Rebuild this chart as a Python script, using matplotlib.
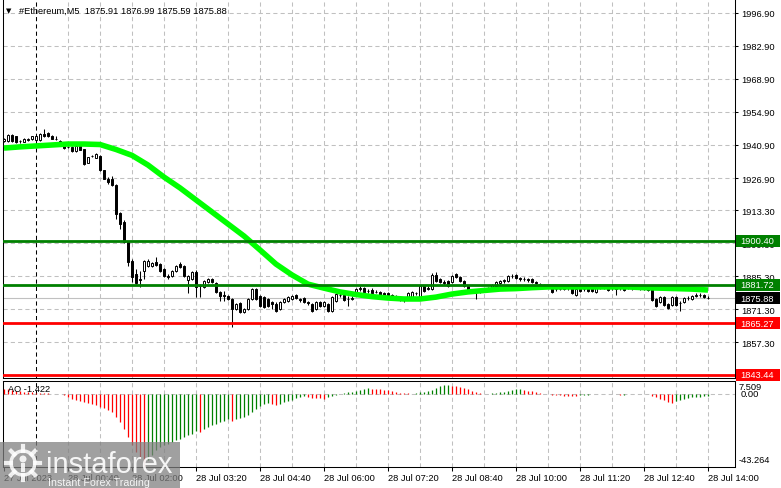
import numpy as np
import pandas as pd
import matplotlib
matplotlib.use("Agg")
import matplotlib.pyplot as plt
from matplotlib.patches import Rectangle, Circle
from matplotlib.lines import Line2D
from matplotlib.transforms import IdentityTransform

symbol = "#Ethereum,M5"
start = "2023-07-27 23:20"

# M5 candles, 27 Jul 23:20 .. 28 Jul 14:00
opens = [
    1942.6, 1942.6, 1945.1, 1944.7, 1942.6, 1942.2, 1943.0, 1943.5, 1943.0, 1943.0,
    1945.6, 1946.0, 1944.7, 1943.5, 1942.6, 1940.5, 1940.1, 1940.1, 1938.4, 1940.5,
    1939.2, 1933.3, 1936.2, 1935.4, 1936.2, 1930.3, 1926.5, 1926.5, 1923.9, 1912.1,
    1908.2, 1899.8, 1891.7, 1886.2, 1884.1, 1887.5, 1889.6, 1889.6, 1891.3, 1890.4,
    1888.3, 1885.3, 1885.3, 1887.5, 1890.4, 1889.6, 1883.6, 1884.1, 1887.0, 1881.5,
    1880.7, 1882.8, 1884.1, 1882.4, 1878.6, 1877.3, 1876.9, 1875.6, 1871.3, 1873.9,
    1870.1, 1871.3, 1875.6, 1879.8, 1876.9, 1876.4, 1875.6, 1874.3, 1873.5, 1871.3,
    1874.3, 1874.7, 1875.6, 1877.3, 1875.6, 1876.0, 1874.3, 1873.5, 1871.3, 1874.3,
    1872.6, 1873.5, 1870.5, 1874.7, 1877.3, 1877.3, 1875.6, 1875.6, 1877.3, 1879.8,
    1880.2, 1879.0, 1879.4, 1878.6, 1878.6, 1878.1, 1878.1, 1877.3, 1876.9, 1876.4,
    1875.6, 1876.0, 1876.4, 1878.1, 1876.4, 1881.1, 1879.8, 1879.8, 1885.8, 1884.1,
    1882.8, 1883.2, 1882.8, 1886.2, 1884.9, 1883.2, 1881.1, 1879.4, 1879.0, 1878.6,
    1879.0, 1879.4, 1879.8, 1881.1, 1882.4, 1883.2, 1883.2, 1885.3, 1885.8, 1884.5,
    1884.1, 1884.1, 1884.1, 1882.8, 1881.9, 1881.5, 1881.1, 1880.2, 1879.8, 1879.8,
    1879.8, 1880.2, 1880.2, 1877.3, 1880.2, 1879.8, 1880.2, 1880.7, 1878.6, 1880.7,
    1880.7, 1880.7, 1880.2, 1880.2, 1880.2, 1880.7, 1880.2, 1880.1, 1880.7, 1881.1,
    1879.8, 1880.2, 1879.8, 1875.6, 1874.3, 1876.4, 1873.5, 1873.0, 1876.4, 1873.9,
    1874.3, 1876.0, 1875.6, 1876.9, 1877.3, 1877.3, 1875.91,
]
highs = [
    1943.9, 1945.6, 1945.6, 1944.9, 1943.0, 1943.9, 1943.9, 1944.9, 1945.1, 1945.8,
    1947.7, 1946.4, 1945.1, 1944.7, 1943.0, 1940.9, 1940.5, 1940.5, 1940.9, 1940.9,
    1939.4, 1936.0, 1936.7, 1937.5, 1936.7, 1930.5, 1927.3, 1927.8, 1924.4, 1912.5,
    1909.1, 1900.2, 1892.5, 1888.3, 1887.5, 1892.1, 1892.5, 1891.3, 1893.4, 1890.9,
    1888.7, 1886.2, 1887.9, 1890.0, 1891.3, 1890.0, 1885.8, 1887.5, 1887.9, 1881.9,
    1883.6, 1884.5, 1884.5, 1882.8, 1879.0, 1879.0, 1877.3, 1876.0, 1873.9, 1874.3,
    1871.8, 1876.0, 1880.2, 1880.2, 1877.3, 1876.9, 1876.0, 1874.7, 1874.3, 1874.7,
    1876.0, 1876.9, 1877.3, 1877.7, 1876.0, 1876.4, 1874.7, 1873.9, 1874.7, 1874.7,
    1874.7, 1873.9, 1876.9, 1878.1, 1878.1, 1877.7, 1876.9, 1876.9, 1880.2, 1881.1,
    1880.7, 1879.8, 1880.2, 1879.4, 1879.0, 1878.6, 1878.6, 1877.7, 1877.3, 1876.9,
    1876.0, 1878.6, 1879.0, 1878.6, 1881.5, 1881.5, 1881.1, 1886.6, 1887.0, 1884.5,
    1883.6, 1883.6, 1885.8, 1886.6, 1885.3, 1883.6, 1881.5, 1879.8, 1879.4, 1879.4,
    1880.2, 1880.7, 1881.9, 1883.2, 1883.6, 1884.1, 1885.8, 1886.2, 1886.2, 1884.9,
    1884.9, 1884.5, 1884.5, 1883.2, 1882.4, 1881.9, 1881.5, 1880.7, 1880.2, 1880.7,
    1881.1, 1881.1, 1880.7, 1880.2, 1880.7, 1880.7, 1880.7, 1881.1, 1880.7, 1881.9,
    1881.1, 1881.1, 1880.7, 1880.7, 1880.7, 1881.1, 1881.1, 1881.1, 1881.1, 1881.5,
    1880.7, 1880.7, 1880.2, 1876.0, 1876.9, 1876.9, 1873.9, 1876.9, 1876.9, 1874.7,
    1876.4, 1876.9, 1877.3, 1878.1, 1878.1, 1877.7, 1876.99,
]
lows = [
    1942.2, 1942.2, 1942.2, 1941.8, 1941.8, 1942.0, 1942.8, 1943.0, 1942.8, 1942.8,
    1944.3, 1944.3, 1943.3, 1943.0, 1941.8, 1939.4, 1939.6, 1937.9, 1937.9, 1938.6,
    1932.4, 1933.1, 1935.8, 1935.2, 1929.9, 1926.3, 1924.4, 1923.5, 1909.5, 1905.3,
    1899.3, 1889.6, 1882.8, 1881.9, 1880.7, 1884.1, 1889.2, 1889.2, 1889.6, 1887.0,
    1884.9, 1884.1, 1884.9, 1887.0, 1888.7, 1884.9, 1878.1, 1883.6, 1876.4, 1876.4,
    1880.2, 1882.4, 1882.4, 1878.1, 1874.7, 1874.7, 1875.2, 1863.7, 1870.9, 1869.6,
    1869.6, 1870.9, 1875.2, 1875.2, 1872.2, 1871.8, 1872.2, 1871.3, 1870.1, 1870.9,
    1873.9, 1874.3, 1875.2, 1875.6, 1874.3, 1873.9, 1873.0, 1870.1, 1870.9, 1872.2,
    1872.2, 1870.1, 1870.1, 1874.3, 1876.4, 1874.7, 1872.6, 1875.2, 1876.9, 1879.0,
    1878.1, 1878.1, 1877.7, 1878.1, 1876.9, 1876.4, 1876.9, 1876.4, 1875.6, 1874.7,
    1874.3, 1875.6, 1876.0, 1877.3, 1876.0, 1878.6, 1879.4, 1879.4, 1882.8, 1882.4,
    1881.5, 1880.7, 1882.4, 1884.5, 1882.8, 1880.7, 1879.0, 1878.6, 1875.6, 1878.1,
    1878.6, 1879.0, 1879.4, 1880.7, 1881.5, 1882.4, 1882.8, 1884.5, 1884.1, 1883.2,
    1883.2, 1882.8, 1882.4, 1881.9, 1881.1, 1880.7, 1880.2, 1878.1, 1879.0, 1879.4,
    1879.4, 1879.4, 1877.7, 1876.9, 1878.6, 1879.0, 1878.6, 1878.6, 1878.1, 1879.8,
    1879.8, 1879.0, 1879.4, 1877.3, 1879.4, 1879.0, 1879.8, 1879.4, 1879.8, 1879.4,
    1879.4, 1879.0, 1874.7, 1872.2, 1873.9, 1872.6, 1871.3, 1872.6, 1872.6, 1870.5,
    1873.9, 1875.2, 1875.2, 1876.4, 1876.4, 1876.0, 1875.59,
]
closes = [
    1943.5, 1945.1, 1942.6, 1942.2, 1942.4, 1943.5, 1943.5, 1944.7, 1944.7, 1945.6,
    1944.7, 1944.7, 1943.5, 1943.4, 1942.2, 1939.6, 1940.0, 1938.4, 1940.5, 1938.8,
    1932.9, 1935.8, 1936.1, 1937.1, 1930.3, 1926.5, 1925.2, 1923.9, 1911.6, 1907.4,
    1899.8, 1891.3, 1884.9, 1882.4, 1883.6, 1891.7, 1891.7, 1890.9, 1890.0, 1887.5,
    1885.3, 1884.9, 1887.5, 1889.6, 1889.2, 1885.3, 1885.3, 1887.0, 1880.7, 1881.1,
    1883.2, 1884.1, 1882.8, 1878.6, 1876.9, 1876.9, 1875.6, 1871.3, 1873.5, 1870.1,
    1871.3, 1875.6, 1879.8, 1875.6, 1872.6, 1872.2, 1872.6, 1873.5, 1870.5, 1874.3,
    1875.6, 1876.4, 1876.9, 1876.0, 1875.2, 1874.3, 1873.9, 1870.5, 1874.3, 1872.6,
    1874.3, 1870.5, 1876.4, 1877.7, 1877.2, 1875.2, 1875.5, 1876.0, 1879.8, 1880.2,
    1878.6, 1878.9, 1878.1, 1878.5, 1877.3, 1876.9, 1877.3, 1876.9, 1876.4, 1875.6,
    1875.2, 1878.1, 1878.6, 1878.0, 1881.1, 1879.0, 1880.2, 1885.8, 1883.2, 1882.8,
    1882.4, 1881.1, 1885.3, 1884.9, 1883.2, 1881.1, 1879.4, 1879.0, 1878.6, 1879.0,
    1879.4, 1879.8, 1881.5, 1882.8, 1883.2, 1883.6, 1885.3, 1885.4, 1884.5, 1884.1,
    1884.0, 1883.6, 1882.8, 1882.4, 1881.5, 1881.1, 1880.7, 1878.6, 1879.7, 1879.9,
    1880.7, 1880.1, 1878.1, 1879.8, 1879.0, 1879.7, 1879.0, 1879.0, 1880.2, 1881.1,
    1880.2, 1879.4, 1880.1, 1879.8, 1880.3, 1879.4, 1880.1, 1880.2, 1880.2, 1879.8,
    1879.9, 1879.4, 1875.2, 1872.6, 1876.4, 1873.0, 1871.8, 1876.4, 1873.0, 1873.8,
    1876.0, 1876.1, 1876.9, 1877.3, 1877.2, 1876.4, 1875.88,
]

# moving average, read every 4th bar
ma = [
    1939.6, 1940.1, 1940.5, 1940.9, 1941.3, 1941.3, 1941.1, 1939.0, 1936.5, 1932.4,
    1927.3, 1922.7, 1917.6, 1912.5, 1907.4, 1902.3, 1896.4, 1890.4, 1885.8, 1881.9,
    1880.2, 1878.6, 1877.5, 1876.6, 1876.0, 1875.6, 1875.6, 1876.4, 1877.7, 1878.6,
    1879.2, 1879.8, 1880.0, 1880.4, 1880.7, 1880.7, 1880.7, 1880.7, 1880.7, 1880.7,
    1880.4, 1880.2, 1880.0, 1879.8, 1879.4,
]

# Awesome Oscillator
ao = [
    2.9, 2.5, 2.1, 1.8, 1.5, 1.2, 1.0, 0.8, 0.6, 0.5, 0.3, 0.2, 0.0, -0.2, -0.4, -0.8,
    -2.0, -3.0, -3.9, -4.5, -4.9, -5.3, -5.9, -6.9, -7.9, -8.5,
    -9.8, -10.8, -13.8, -16.7, -20.7, -25.6, -30.5, -34.4, -37.4, -43.264,
    -39.3, -36.4, -33.4, -31.5, -30.1, -29.5, -28.5, -27.5, -26.5, -25.6, -24.6,
    -23.6, -22.2, -22.8, -21.0, -19.7, -18.7, -17.7, -16.7, -15.9, -15.1, -15.9,
    -14.9, -14.4, -13.8, -12.4, -10.8, -8.9, -7.3, -6.1, -5.7, -6.1, -6.9, -6.1,
    -4.9, -4.5, -3.9, -2.6, -2.0, -1.6, -2.0, -2.4, -2.6, -2.8, -2.9,
    -1.8, -1.4, -0.6, -0.2, 0.2, 0.8, 1.2, 1.8, 2.2, 2.8, 3.3, 3.0, 2.8, 2.6,
    2.4, 2.0, 1.4, 1.0, 0.6, 0.4, 0.2, -0.1,
    0.4, 0.8, 1.0, 1.6, 2.4, 3.3, 4.5, 4.9, 5.1,
    4.5, 4.3, 3.7, 3.3, 2.6, 1.6, 1.0, 0.4, -0.1, -0.2,
    0.2, 0.4, 0.8, 1.0, 1.6, 2.2, 2.6, 2.8,
    2.4, 1.8, 1.4, 1.0, 0.4, -0.1, -0.4, -0.6, -0.8, -1.0, -1.2, -1.3, -1.4, -1.5,
    -1.0, -0.8, -0.6, -0.4, -0.2, -0.1, 0.05, 0.1, 0.0,
    -0.4, -0.6, -0.5, -0.45, -0.4, -0.35, -0.3, -0.35, -0.4,
    -1.4, -2.0, -2.9, -3.9, -4.9, -5.3,
    -4.5, -3.5, -2.9, -2.6, -2.2, -1.9, -1.7, -1.55, -1.422,
]

levels_green = [1900.40, 1881.72]
levels_red = [1865.27, 1843.44]
price_ticks = [1996.90, 1982.90, 1968.90, 1954.90, 1940.90, 1926.90,
               1913.30, 1899.30, 1885.30, 1871.30, 1857.30]
ao_max, ao_min = 7.509, -43.264

plt.rcParams['font.family'] = ['Liberation Sans', 'DejaVu Sans']

o, h, l, c = map(np.array, (opens, highs, lows, closes))
n = len(c)
idx = np.arange(n)
times = pd.date_range(start, periods=n, freq="5min")
day0 = int(np.where(times == pd.Timestamp("2023-07-28 00:00"))[0][0])
grid_x = np.arange(day0 + 8, n, 8)
label_x = np.arange(0, n, 16)
labels = [times[0].strftime('%d %b %Y')] + [t.strftime('%d %b %H:%M') for t in times[label_x[1:]]]

W, H = 781, 489
fig = plt.figure(figsize=(W / 100, H / 100), dpi=100)
ax = fig.add_axes([3 / W, (H - 379) / H, 732 / W, 379 / H])
ax2 = fig.add_axes([3 / W, (H - 468) / H, 732 / W, 86 / H])
px = IdentityTransform()
grey = '#c0c0c0'
dash = (0, (4, 3))

for a in (ax, ax2):
    a.set_xlim(-0.25, 182.75)
    for gx in grid_x:
        a.axvline(gx, color=grey, lw=0.75, ls=dash, zorder=0)
    a.axvline(day0, color='black', lw=0.75, ls=dash, zorder=1)
    for s in a.spines.values():
        s.set_linewidth(0.75)
ax.spines['top'].set_visible(False)

# main price panel
ax.set_ylim(1842.1, 2002.8)
for v in price_ticks:
    ax.axhline(v, color=grey, lw=0.75, ls=dash, zorder=0)
ax.axhline(c[-1], color=grey, lw=0.8, zorder=1)

up = c >= o
ax.vlines(idx, l, h, color='black', lw=0.75, zorder=3)
ax.bar(idx, np.maximum(np.abs(c - o), 0.12), width=0.5, bottom=np.minimum(o, c),
       color=np.where(up, 'white', 'black'), edgecolor='black', linewidth=0.7, zorder=4)

ax.plot(idx[::4], ma, color='#00ff00', lw=4, solid_capstyle='butt', zorder=5)
for v in levels_green:
    ax.axhline(v, color='#008000', lw=2, zorder=6)
for v in levels_red:
    ax.axhline(v, color='#ff0000', lw=2, zorder=6)

ax.set_xticks([])
ax.yaxis.tick_right()
ax.set_yticks(price_ticks)
ax.set_yticklabels([f'{v:.2f}' for v in price_ticks])
ax.tick_params(axis='y', length=2.5, width=0.75, pad=2, labelsize=6.7)

# AO panel
ao_arr = np.array(ao)
ao_col = ['#ff0000'] + ['#008000' if ao_arr[i] > ao_arr[i - 1] else '#ff0000' for i in range(1, n)]
ax2.set_ylim(ao_min, ao_max)
ax2.axhline(0, color=grey, lw=0.75, ls=dash, zorder=0)
ax2.vlines(idx, 0, ao_arr, colors=ao_col, lw=0.9, zorder=3)
ax2.set_yticks([])
ax2.set_xticks(label_x)
ax2.set_xticklabels(labels)
ax2.tick_params(axis='x', length=3, width=0.75, pad=1.5, labelsize=6.7)
for lbl in ax2.get_xticklabels():
    lbl.set_ha('left')


def price_box(value, fc):
    ypix = ax.transData.transform((0, value))[1]
    fig.add_artist(Rectangle((736, ypix - 6), 44, 12, transform=px, fc=fc, ec='none', zorder=5))
    fig.text(740, ypix, f'{value:.2f}', transform=px, color='white', fontsize=6.7,
             va='center', ha='left', zorder=6)


for v in levels_green:
    price_box(v, '#008000')
for v in levels_red:
    price_box(v, '#ff0000')
price_box(c[-1], 'black')

# texts
fig.text(6, H - 11, '\u25bc', transform=px, fontsize=5, family='DejaVu Sans', va='center')
fig.text(19, H - 11, f'{symbol}  {o[-1]:.2f} {h[-1]:.2f} {l[-1]:.2f} {c[-1]:.2f}',
         transform=px, fontsize=6.7, va='center')
fig.text(8, H - 390, f'AO {ao[-1]:.3f}', transform=px, fontsize=6.7, va='center')
fig.text(739, H - 388, f'{ao_max:.3f}', transform=px, fontsize=6.7, va='center')
fig.text(741, H - 395, '0.00', transform=px, fontsize=6.7, va='center')
fig.text(739, H - 461, f'{ao_min:.3f}', transform=px, fontsize=6.7, va='center')

# watermark
fig.add_artist(Rectangle((0, 0), 180, 46, transform=px, fc='#808080', ec='none', alpha=0.75, zorder=8))
cx, cy = 23, 25
for ang in np.linspace(0, 2 * np.pi, 8, endpoint=False):
    fig.add_artist(Line2D([cx + 12 * np.cos(ang), cx + 17 * np.cos(ang)],
                          [cy + 12 * np.sin(ang), cy + 17 * np.sin(ang)],
                          transform=px, color='white', lw=3, alpha=0.85, zorder=9))
fig.add_artist(Circle((cx, cy), 12, transform=px, fill=False, ec='white', lw=2.5, alpha=0.85, zorder=9))
fig.add_artist(Circle((cx, cy + 4), 3.5, transform=px, fc='white', ec='none', alpha=0.85, zorder=9))
fig.add_artist(Rectangle((cx - 2, cy - 9), 4, 9, transform=px, fc='white', ec='none', alpha=0.85, zorder=9))
fig.text(46, 16, 'instaforex', transform=px, fontsize=21, color='white', alpha=0.9, zorder=10)
fig.text(48, 3, 'Instant Forex Trading', transform=px, fontsize=7.7, color='white', alpha=0.9, zorder=10)

fig.savefig('out.png', dpi=100)
